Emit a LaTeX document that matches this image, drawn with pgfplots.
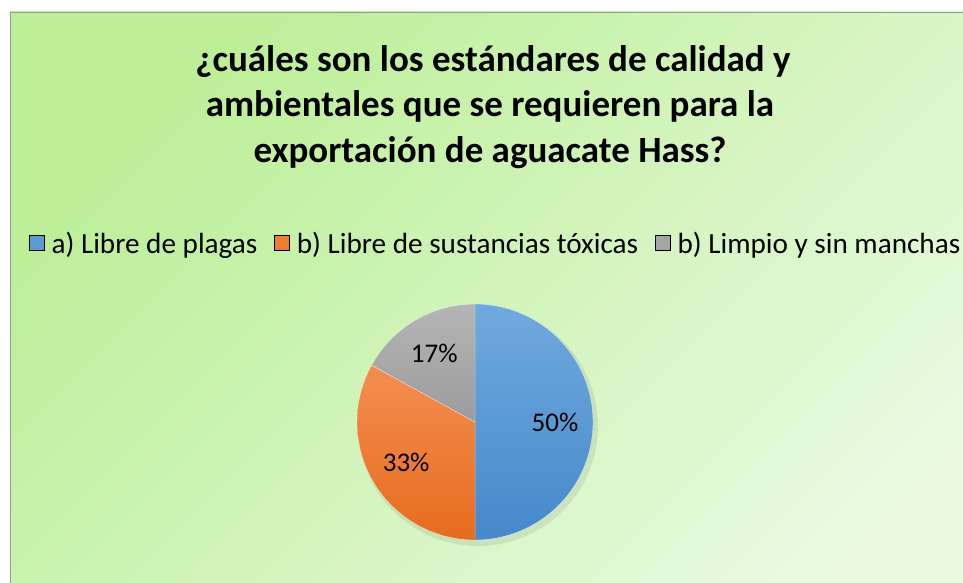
\documentclass[border=0pt]{standalone}
\usepackage{fontspec}
\setmainfont{Carlito}
\usepackage{pgfplots}
\usepackage{pgfplotstable}
\pgfplotsset{compat=1.18}
\usetikzlibrary{calc}

\definecolor{bgA}{HTML}{BCEF98}
\definecolor{bgB}{HTML}{E9FAE1}
\definecolor{frame}{HTML}{9A9A9A}
\definecolor{blueTop}{HTML}{70A9DE}
\definecolor{blueBot}{HTML}{4589CA}
\definecolor{orangeTop}{HTML}{F38E50}
\definecolor{orangeBot}{HTML}{E66B1E}
\definecolor{grayTop}{HTML}{B5B5B5}
\definecolor{grayBot}{HTML}{9B9B9B}
\definecolor{legBlue}{HTML}{5B9BD5}
\definecolor{legOrange}{HTML}{ED7D31}
\definecolor{legGray}{HTML}{A5A5A5}

% share of each answer, in percent
\pgfplotstableread{
key value top bot
a 50 blueTop blueBot
b 33 orangeTop orangeBot
c 17 grayTop grayBot
}\piedata

\tikzset{pielabel/.style={font=\fontsize{27}{32}\selectfont, text=black}}
\tikzset{titlefont/.style={font=\fontsize{37}{44}\selectfont\bfseries}}

\begin{document}
\begin{tikzpicture}
\begin{axis}[
    name=main,
    scale only axis,
    width=963pt, height=583pt,
    xmin=0, xmax=963, ymin=0, ymax=583,
    y dir=reverse,
    hide axis,
    legend columns=-1,
    legend style={at={(0.027,0.583)}, anchor=west, draw=none, fill=none,
        font=\fontsize{29.2}{34}\selectfont,
        /tikz/every even column/.append style={column sep=15pt}},
    legend image code/.code={%
        \fill[#1] (0pt,-7.5pt) rectangle (15pt,7.5pt);
        \path (20pt,0pt);},
]
% background panel
\fill[white] (axis cs:0,0) rectangle (axis cs:963,583);
\shade[top color=bgA, bottom color=bgB, shading angle=45]
    (axis cs:10,12) rectangle (axis cs:1000,640);
\draw[frame, line width=1.5pt] (axis cs:10.5,640) -- (axis cs:10.5,12.5) -- (axis cs:1000,12.5);

% title
\node[titlefont, anchor=base] at (axis cs:493,72) {¿cuáles son los estándares de calidad y};
\node[titlefont, anchor=base] at (axis cs:490,117) {ambientales que se requieren para la};
\node[titlefont, anchor=base] at (axis cs:490,162) {exportación de aguacate Hass?};

% soft shadow of the pie
\fill[black, opacity=0.08] (axis cs:478,426) circle[radius=120pt];

% slices, clockwise from the top
\pgfmathsetmacro{\curang}{90}
\pgfplotsforeachungrouped \i in {0,1,2}{%
    \pgfplotstablegetelem{\i}{value}\of\piedata \let\val\pgfplotsretval
    \pgfplotstablegetelem{\i}{top}\of\piedata \let\tc\pgfplotsretval
    \pgfplotstablegetelem{\i}{bot}\of\piedata \let\bc\pgfplotsretval
    \pgfmathsetmacro{\nextang}{\curang-3.6*\val}
    \pgfmathsetmacro{\midang}{(\curang+\nextang)/2}
    \edef\cmd{%
        \noexpand\path[top color=\tc, bottom color=\bc, draw=white, draw opacity=0.6, line width=0.4pt]
            (axis cs:475,422) -- ++(\curang:118pt)
            arc[start angle=\curang, end angle=\nextang, radius=118pt] -- cycle;
        \noexpand\node[pielabel] at ($(axis cs:475,422)+(\midang:80pt)$) {\val\noexpand\%};
    }%
    \cmd
    \let\curang\nextang
}

\addlegendimage{fill=legBlue}
\addlegendentry{a) Libre de plagas}
\addlegendimage{fill=legOrange}
\addlegendentry{b) Libre de sustancias tóxicas}
\addlegendimage{fill=legGray}
\addlegendentry{b) Limpio y sin manchas}
\end{axis}
% the page is exactly the chart frame
\pgfresetboundingbox
\path (main.south west) rectangle (main.north east);
\end{tikzpicture}
\end{document}
